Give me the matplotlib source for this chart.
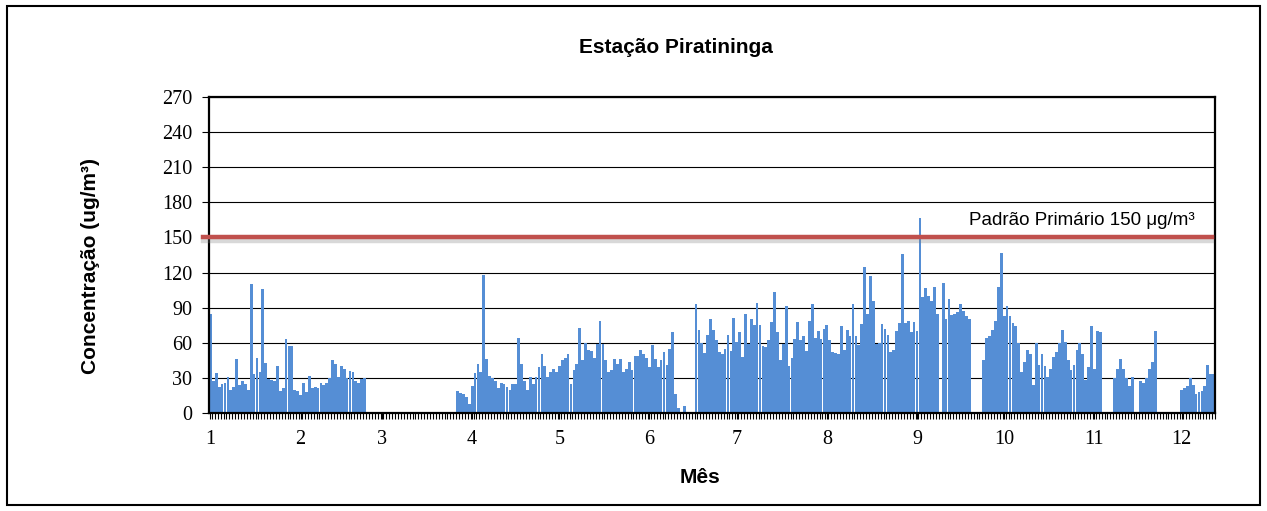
import matplotlib
matplotlib.use("Agg")
import matplotlib.pyplot as plt
from matplotlib import patheffects
from matplotlib.patches import Rectangle

# concentração diária (ug/m3) por mês; 0 = dia sem medição
jan = [85, 27, 34, 22, 25, 26, 31, 20, 22, 46, 24, 27, 25, 20, 110, 33, 47, 35, 106, 43,
       29, 28, 27, 40, 19, 21, 63, 57, 57, 20, 19]
fev = [15, 26, 18, 32, 21, 22, 21, 26, 24, 26, 30, 45, 42, 31, 40, 38, 30, 36, 35, 27,
       26, 29, 30, 0, 0, 0, 0, 0]
mar = [0, 0, 0, 0, 0, 0, 0, 0, 0, 0, 0, 0, 0, 0, 0, 0, 0, 0, 0, 0,
       0, 0, 0, 0, 0, 0, 19, 17, 16, 14, 8]
abr = [23, 34, 42, 35, 118, 46, 32, 30, 27, 21, 26, 25, 22, 20, 25, 25, 64, 42, 27, 20,
       31, 25, 31, 39, 50, 40, 31, 35, 38, 35]
mai = [40, 45, 47, 50, 25, 37, 42, 73, 45, 60, 54, 53, 47, 59, 79, 59, 45, 35, 37, 46,
       42, 46, 35, 38, 44, 37, 49, 49, 54, 50, 47]
jun = [39, 58, 46, 39, 45, 52, 41, 55, 69, 16, 4, 1, 6, 0, 0, 0, 93, 71, 60, 51,
       67, 80, 71, 62, 52, 50, 55, 67, 53, 81]
jul = [61, 69, 48, 85, 59, 80, 75, 94, 75, 57, 56, 62, 78, 103, 69, 45, 59, 91, 40, 47,
       63, 78, 62, 66, 53, 79, 93, 64, 70, 63, 72]
ago = [75, 62, 52, 51, 50, 74, 54, 71, 66, 93, 66, 58, 76, 125, 85, 117, 96, 59, 60, 76,
       72, 67, 52, 54, 70, 77, 136, 77, 79, 69, 78]
set_ = [70, 167, 99, 107, 100, 96, 108, 85, 0, 111, 80, 97, 84, 85, 86, 93, 87, 83, 80, 0,
        0, 0, 0, 45, 64, 66, 71, 79, 108, 137]
out = [83, 91, 83, 77, 74, 60, 35, 44, 54, 50, 24, 60, 41, 50, 40, 31, 38, 48, 52, 60,
       71, 61, 45, 37, 41, 54, 60, 50, 28, 39, 74]
nov = [38, 70, 69, 0, 0, 0, 0, 30, 38, 46, 38, 30, 23, 31, 0, 0, 27, 26, 30, 38,
       44, 70, 0, 0, 0, 0, 0, 0, 0, 0]
dez = [20, 21, 23, 30, 24, 16, 18, 19, 23, 41, 33, 33]

meses = [jan, fev, mar, abr, mai, jun, jul, ago, set_, out, nov, dez]
rotulos_mes = ["1", "2", "3", "4", "5", "6", "7", "8", "9", "10", "11", "12"]
padrao_primario = 150

valores = [v for m in meses for v in m]
dias = list(range(len(valores)))
inicio_mes = [sum(len(m) for m in meses[:i]) for i in range(len(meses))]

W, H = 1267, 511
fig = plt.figure(figsize=(W / 100, H / 100), dpi=100)
ax = fig.add_axes([209 / W, 1 - 413 / H, (1215 - 209) / W, (413 - 97) / H])

ax.bar(dias, valores, width=0.95, color="#558ed5", linewidth=0, zorder=2)

ax.set_xlim(-0.5, len(valores) - 0.5)
ax.set_ylim(0, 270)
ax.set_yticks(range(0, 271, 30))
ax.yaxis.grid(True, color="black", linewidth=0.8, zorder=1)

# um traço por dia no eixo x, rótulo só no primeiro dia de cada mês
ax.set_xticks(inicio_mes)
ax.set_xticklabels(rotulos_mes)
ax.set_xticks([d + 0.5 for d in dias], minor=True)
ax.tick_params(axis="x", which="both", length=4.5, width=0.8, color="black", pad=8)
ax.tick_params(axis="y", length=5, width=0.8, color="black", pad=7)
for lab in ax.get_xticklabels() + ax.get_yticklabels():
    lab.set_fontfamily("Liberation Serif")
    lab.set_fontsize(14.5)

for s in ax.spines.values():
    s.set_linewidth(1.6)

# linha do padrão primário com sombra
ax.plot([-2.6, len(valores) - 1.5], [padrao_primario, padrao_primario],
        color="#c0504d", linewidth=3.2, clip_on=False, zorder=4,
        path_effects=[patheffects.SimpleLineShadow(offset=(0, -2.5), shadow_color="#808080", alpha=0.3),
                      patheffects.Normal()])
ax.text(261, 161, "Padrão Primário 150 μg/m³", fontsize=13.5, family="Liberation Sans",
        va="baseline", zorder=5)

fig.text(676 / W, 1 - 47 / H, "Estação Piratininga", ha="center", va="center",
         fontsize=15, fontweight="bold", family="Liberation Sans")
fig.text(91 / W, 1 - 266 / H, "Concentração (ug/m³)", ha="center", va="center",
         rotation=90, fontsize=15, fontweight="bold", family="Liberation Sans")
fig.text(700 / W, 1 - 477 / H, "Mês", ha="center", va="center",
         fontsize=15, fontweight="bold", family="Liberation Sans")

# moldura externa
fig.patches.append(Rectangle((7 / W, 6 / H), (1260 - 7) / W, (505 - 6) / H,
                             transform=fig.transFigure, fill=False,
                             edgecolor="black", linewidth=1.5))

fig.savefig("out.png", dpi=100)
